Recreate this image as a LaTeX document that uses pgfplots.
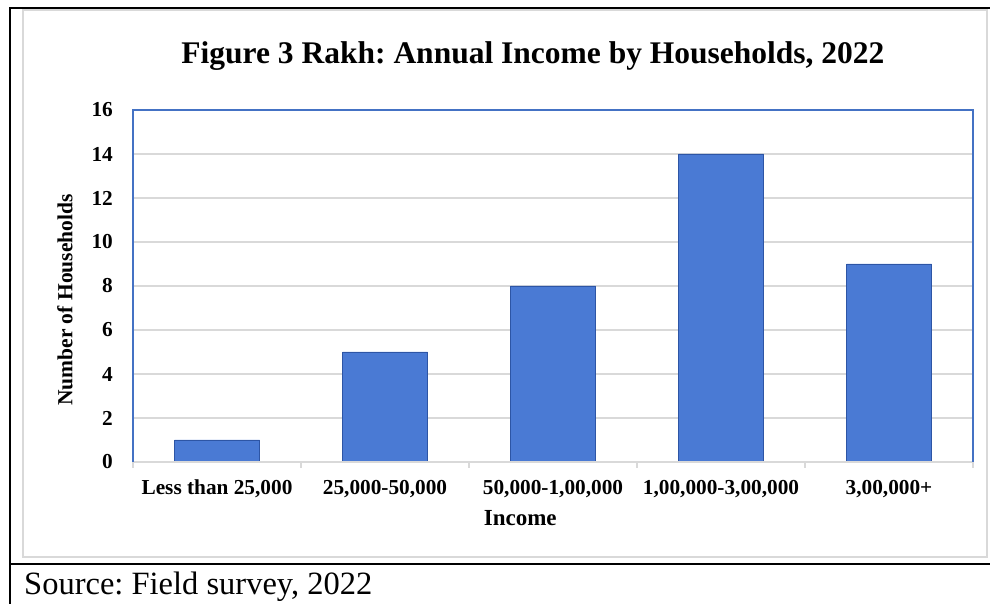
\documentclass[border=0pt]{standalone}
\usepackage{fontspec}
\setmainfont{Liberation Serif}
\usepackage{pgfplots}
\pgfplotsset{compat=1.18}
\frenchspacing
\definecolor{plotblue}{RGB}{68,114,196}
\definecolor{barblue}{RGB}{74,122,212}
\definecolor{baredge}{RGB}{45,85,165}
\definecolor{gridgray}{RGB}{217,217,217}
\begin{document}
\begin{tikzpicture}
\useasboundingbox (0pt,0pt) rectangle (990pt,604pt);
\draw[gridgray, line width=1.5pt] (23pt,47pt) rectangle (987pt,594pt);
\draw[black, line width=2pt] (9.5pt,0pt) -- (9.5pt,596pt) -- (990pt,596pt);
\draw[black, line width=2.5pt] (9.5pt,40pt) -- (990pt,40pt);
\node[anchor=base west, inner sep=0pt, font=\fontsize{32.5}{36}\selectfont] at (24pt,9pt) {Source: Field survey, 2022};
\node[anchor=base, inner sep=0pt, font=\fontsize{31.5}{36}\selectfont\bfseries] at (533pt,540pt) {Figure 3 Rakh: Annual Income by Households, 2022};
\begin{axis}[
  at={(133pt,142pt)}, anchor=south west,
  scale only axis, width=840pt, height=352pt,
  ymin=0, ymax=16, ytick={0,2,...,16},
  xmin=-0.5, xmax=4.5, xtick={0,1,2,3,4},
  xticklabels={Less than 25{,}000,25{,}000-50{,}000,50{,}000-1{,}00{,}000,1{,}00{,}000-3{,}00{,}000,3{,}00{,}000+},
  major tick length=0pt,
  ymajorgrids, grid style={gridgray, line width=1.2pt},
  axis line style={draw=none},
  /pgf/number format/assume math mode=true,
  tick label style={font=\fontsize{21.3}{25}\selectfont\bfseries, inner sep=0pt},
  yticklabel style={xshift=-20pt},
  xticklabel style={yshift=-18pt},
  extra x ticks={-0.5,0.5,1.5,2.5,3.5,4.5},
  extra x tick labels={},
  extra x tick style={major tick length=6pt, tick align=outside, tick style={gridgray, line width=1.5pt}, grid=none},
  xtick pos=bottom, ytick pos=left,
  xlabel={Income}, ylabel={Number of Households},
  label style={font=\fontsize{21.5}{25}\selectfont\bfseries},
  xlabel style={at={(axis description cs:0.461,-0.159)}, anchor=center, inner sep=0pt, font=\fontsize{23}{27}\selectfont\bfseries},
  ylabel style={at={(axis description cs:-0.081,0.46)}, anchor=center, rotate=0, inner sep=0pt},
  ybar, bar width=85pt,
  clip=false,
]
\addplot[fill=barblue, draw=baredge, line width=0.6pt] coordinates {(0,1) (1,5) (2,8) (3,14) (4,9)};
\draw[gridgray, line width=2pt] (rel axis cs:0,0) -- (rel axis cs:1,0);
\draw[plotblue, line width=1.5pt] (rel axis cs:0,0) -- (rel axis cs:0,1) -- (rel axis cs:1,1) -- (rel axis cs:1,0);
\end{axis}
\end{tikzpicture}
\end{document}
